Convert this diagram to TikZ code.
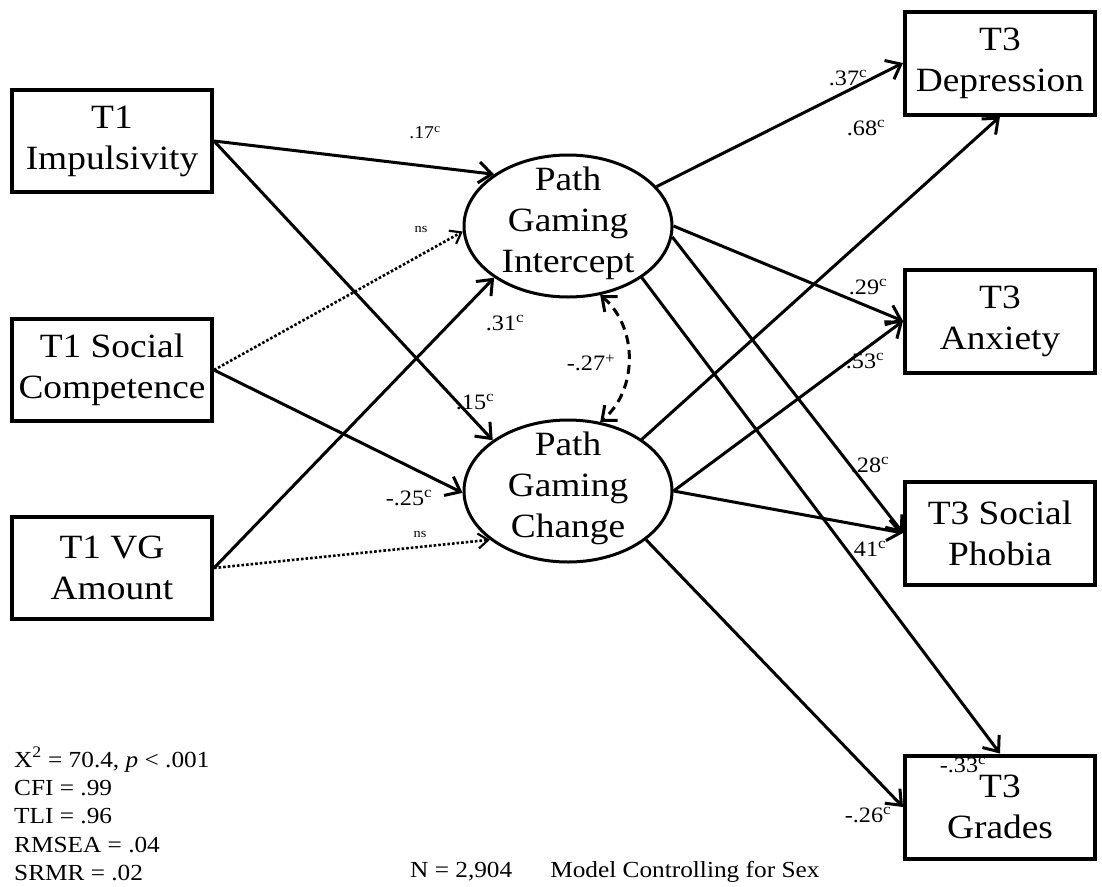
\documentclass[tikz,border=0pt]{standalone}
\usepackage{fontspec}
\setmainfont[FakeStretch=1.1]{Liberation Serif}
\usetikzlibrary{arrows.meta,shapes.geometric}
\newcommand{\cf}[2]{#1\textsuperscript{#2}}
\begin{document}
\begin{tikzpicture}[x=1pt,y=-1pt,
  box/.style={draw,line width=4pt,minimum width=200pt,minimum height=102pt,align=center,
    font=\fontsize{34}{41}\selectfont,inner sep=0pt},
  rbox/.style={box,minimum width=190pt,minimum height=103pt},
  lat/.style={draw,ellipse,line width=3pt,minimum width=208pt,minimum height=142pt,inner sep=0pt},
  lattext/.style={align=center,font=\fontsize{34}{41}\selectfont,inner sep=0pt},
  arr/.style={line width=3pt,-{Straight Barb[length=13pt,width=21pt,line width=3pt]}},
  dotarr/.style={line width=2.6pt,dotted,-{Straight Barb[length=10pt,width=15pt,line width=2.2pt]}},
  corr/.style={line width=3pt,dash pattern=on 9pt off 6pt,{Straight Barb[length=12pt,width=20pt,line width=3pt]}-{Straight Barb[length=12pt,width=20pt,line width=3pt]}},
  coef/.style={font=\fontsize{22}{22}\selectfont,inner sep=0pt},
  small/.style={font=\fontsize{18}{18}\selectfont,inner sep=0pt},
  nslab/.style={font=\fontsize{13}{13}\selectfont,inner sep=0pt},
  stat/.style={anchor=base west,font=\fontsize{23}{23}\selectfont,inner sep=0pt}
]
\useasboundingbox (0,0) rectangle (1102,886);

% left boxes
\node[box] (imp) at (112,141) {T1\\Impulsivity};
\node[box] (soc) at (112,370) {T1 Social\\Competence};
\node[box] (vg)  at (112,568) {T1 VG\\Amount};

% latent ellipses
\node[lat] (int) at (568,226) {};
\node[lattext] (intt) at ([yshift=3pt]int) {Path\\Gaming\\Intercept};
\node[lat] (chg) at (568,491) {};
\node[lattext] (chgt) at ([yshift=3pt]chg) {Path\\Gaming\\Change};

% right boxes
\node[rbox] (dep) at (1000,63)  {T3\\Depression};
\node[rbox] (anx) at (1000,321) {T3\\Anxiety};
\node[rbox] (sp)  at (1000,533) {T3 Social\\Phobia};
\node[rbox] (grd) at (1000,807) {T3\\Grades};

% predictors -> latent
\draw[arr] (imp.east) -- (int.145);
\draw[arr] (imp.east) -- (chg.146);
\draw[dotarr] (soc.east) -- (int.183);
\draw[arr] (soc.east) -- (chg.181);
\draw[arr] (vg.east) -- (int.215);
\draw[dotarr] (vg.east) -- (chg.212);

% latent correlation
\draw[corr] (int.295) to[bend left=50] (chg.65);

% latent -> outcomes
\draw[arr] (int.24) -- (dep.west);
\draw[arr] (chg.35) -- (dep.south);
\draw[arr] (int.0) -- (anx.west);
\draw[arr] (chg.0) -- (anx.west);
\draw[arr] (int.-6) -- (sp.west);
\draw[arr] (chg.0) -- (sp.west);
\draw[arr] (int.-35) -- (grd.north);
\draw[arr] (chg.-32) -- (grd.west);

% coefficients
\node[small] (c17) at (425,133) {\cf{.17}{c}};
\node[nslab] (ns1) at (421,229) {ns};
\node[coef] (c31) at (505,323) {\cf{.31}{c}};
\node[coef] (c27) at (591,363) {\cf{-.27}{+}};
\node[coef] (c15) at (475,402) {\cf{.15}{c}};
\node[coef] (c25) at (409,498) {\cf{-.25}{c}};
\node[nslab] (ns2) at (420,534) {ns};
\node[coef] (c37) at (848,78)  {\cf{.37}{c}};
\node[coef] (c68) at (866,128) {\cf{.68}{c}};
\node[coef] (c29) at (868,287) {\cf{.29}{c}};
\node[coef] (c53) at (865,361) {\cf{.53}{c}};
\node[coef] (c28) at (870,465) {\cf{.28}{c}};
\node[coef] (c41) at (870,549) {\cf{41}{c}};
\node[coef] (c33) at (963,765) {\cf{-.33}{c}};
\node[coef] (c26) at (868,815) {\cf{-.26}{c}};

% fit statistics
\node[stat] (s1) at (14,767) {X\textsuperscript{2} = 70.4, \textit{p} < .001};
\node[stat] (s2) at (14,795) {CFI = .99};
\node[stat] (s3) at (14,823) {TLI = .96};
\node[stat] (s4) at (14,852) {RMSEA = .04};
\node[stat] (s5) at (14,880) {SRMR = .02};
\node[stat] (nn) at (410,877) {N = 2,904\hspace{38pt}Model Controlling for Sex};
\end{tikzpicture}
\end{document}
